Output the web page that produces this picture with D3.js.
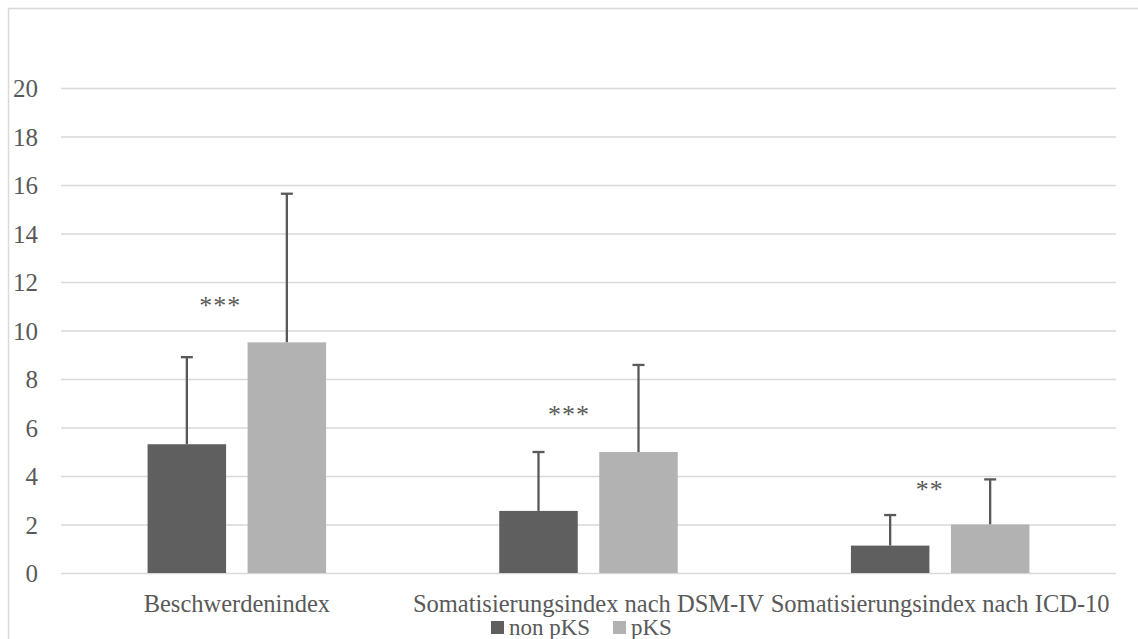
<!DOCTYPE html>
<html>
<head>
<meta charset="utf-8">
<script src="https://cdn.jsdelivr.net/npm/d3@7/dist/d3.min.js"></script>
<style>
  html, body { margin: 0; padding: 0; background: #fff; }
  svg { display: block; }
  text { font-family: "Liberation Serif", "DejaVu Serif", serif; fill: #595959; }
</style>
</head>
<body>
<svg id="chart" width="1138" height="639"></svg>
<script>
// Mean scores per index, split by group, with standard deviations
const categories = ["Beschwerdenindex", "Somatisierungsindex nach DSM-IV", "Somatisierungsindex nach ICD-10"];
const seriesNames = ["non pKS", "pKS"];
const nonPKS = [5.31, 2.56, 1.13];
const pKS = [9.51, 4.99, 2.0];
const nonPKS_sd = [3.59, 2.43, 1.26];
const pKS_sd = [6.13, 3.59, 1.86];
const significance = ["***", "***", "**"];
const yTicks = [0, 2, 4, 6, 8, 10, 12, 14, 16, 18, 20];

const colors = ["#5f5f5f", "#b2b2b2"];
// where each significance marker sits: horizontal shift from the group centre (px), height in axis units
const sigPlacement = [{ dx: -17, at: 11.18 }, { dx: -20, at: 6.72 }, { dx: -11, at: 3.59 }];

const svg = d3.select("#chart");
const W = 1138, H = 639;
const plot = { left: 61, right: 1116, top: 88, bottom: 573 };

// outer frame (top and left edges visible)
svg.append("path")
  .attr("d", `M8.5,${H} L8.5,8.5 L${W},8.5`)
  .attr("fill", "none").attr("stroke", "#d9d9d9").attr("stroke-width", 1.5);

const x0 = d3.scaleBand().domain(categories).range([plot.left, plot.right]).paddingInner(0).paddingOuter(0);
const innerPad = (x0.bandwidth() - 178.5) / 2;
const x1 = d3.scaleBand().domain(seriesNames)
  .range([innerPad, x0.bandwidth() - innerPad]).paddingInner(0.215).paddingOuter(0);
const y = d3.scaleLinear().domain([0, 20]).range([plot.bottom, plot.top]);

// gridlines + y tick labels
const yAxis = d3.axisLeft(y).tickValues(yTicks).tickSize(-(plot.right - plot.left)).tickPadding(23);
const gy = svg.append("g").attr("transform", `translate(${plot.left},0)`).call(yAxis);
gy.select(".domain").remove();
gy.selectAll(".tick line").attr("stroke", "#d9d9d9").attr("stroke-width", 1.6);
gy.selectAll(".tick text").attr("font-size", 25).attr("fill", "#595959").attr("dy", "0.34em")
  .style("font-family", "'Liberation Serif', serif");

const rows = categories.map((c, i) => ({
  cat: c,
  vals: [
    { s: seriesNames[0], v: nonPKS[i], sd: nonPKS_sd[i] },
    { s: seriesNames[1], v: pKS[i], sd: pKS_sd[i] }
  ],
  sig: significance[i],
  place: sigPlacement[i]
}));

const groups = svg.append("g").selectAll("g").data(rows).join("g")
  .attr("transform", d => `translate(${x0(d.cat)},0)`);

// error bars (upper whisker only)
groups.selectAll("g.err").data(d => d.vals).join("g").attr("class", "err").each(function(d) {
  const g = d3.select(this);
  const cx = x1(d.s) + x1.bandwidth() / 2;
  g.append("line").attr("x1", cx).attr("x2", cx).attr("y1", y(d.v)).attr("y2", y(d.v + d.sd))
    .attr("stroke", "#595959").attr("stroke-width", 2.3);
  g.append("line").attr("x1", cx - 6).attr("x2", cx + 6).attr("y1", y(d.v + d.sd)).attr("y2", y(d.v + d.sd))
    .attr("stroke", "#595959").attr("stroke-width", 2.3);
});

groups.selectAll("rect").data(d => d.vals).join("rect")
  .attr("x", d => x1(d.s))
  .attr("width", x1.bandwidth())
  .attr("y", d => y(d.v))
  .attr("height", d => y(0) - y(d.v))
  .attr("fill", (d, i) => colors[i]);

// significance markers
groups.append("text")
  .attr("x", d => x0.bandwidth() / 2 + d.place.dx + 0.5)
  .attr("y", d => y(d.place.at) + 12.5)
  .attr("text-anchor", "middle")
  .attr("font-size", 26)
  .attr("letter-spacing", 1)
  .attr("fill", "#404040")
  .text(d => d.sig);

// category labels
svg.append("g").selectAll("text").data(categories).join("text")
  .attr("x", d => x0(d) + x0.bandwidth() / 2)
  .attr("y", 612)
  .attr("text-anchor", "middle")
  .attr("font-size", 24.5)
  .text(d => d);

// legend
const legend = svg.append("g").attr("transform", "translate(491,621)");
const items = [{ name: seriesNames[0], x: 0 }, { name: seriesNames[1], x: 122 }];
items.forEach((it, i) => {
  legend.append("rect").attr("x", it.x).attr("y", 0).attr("width", 13).attr("height", 13).attr("fill", colors[i]);
  legend.append("text").attr("x", it.x + 18).attr("y", 13.5).attr("font-size", 23).text(it.name);
});
</script>
</body>
</html>
